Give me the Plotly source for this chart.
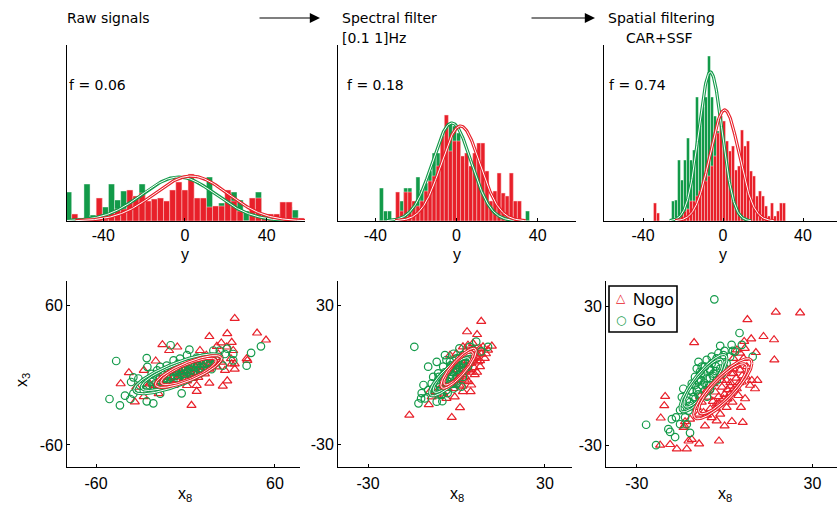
import numpy as np
import plotly.graph_objects as go

W, H = 837, 508
RED = '#E8202A'
GREEN = '#129A49'
TICKFONT = dict(family='Liberation Sans, Arial', size=16, color='black')
TEXTFONT = dict(family='DejaVu Sans', size=14, color='black')

# ---------------- histogram data (bin centres, heights) ----------------
h1_centers = [-57, -54, -51, -48, -45, -42, -39, -36, -33, -30, -27, -24, -21, -18, -15, -12, -9, -6, -3, 0,
              3, 6, 9, 12, 15, 18, 21, 24, 27, 30, 33, 36, 39, 42, 45, 48, 51, 54, 57]
h1_go = [29, 0, 3, 37, 6, 0, 14, 37, 21, 30, 20, 3, 37, 14, 13, 0, 0, 0, 0, 0,
         0, 0, 0, 44, 0, 18, 0, 29, 21, 10, 0, 29, 0, 0, 0, 0, 14, 11, 0]
h1_nogo = [0, 7, 3, 2, 2, 23, 2, 8, 12, 12, 31, 25, 28, 20, 22, 23, 20, 31, 39, 31,
           47, 23, 23, 14, 15, 15, 31, 20, 10, 0, 23, 23, 7, 7, 7, 19, 19, 3, 3]

h2_centers = [-37, -35, -33, -31, -29, -27, -25, -23, -21, -19, -17, -15, -13, -11, -9, -7, -5, -3, -1,
              1, 3, 5, 7, 9, 11, 13, 15, 17, 19, 21, 23, 25, 27, 29, 31, 33, 35]
h2_go = [33, 10, 10, 0, 0, 20, 33, 33, 20, 44, 31, 38, 50, 68, 68, 68, 80, 97, 95,
         88, 58, 50, 45, 40, 30, 25, 20, 10, 20, 15, 10, 0, 20, 5, 0, 0, 10]
h2_nogo = [0, 0, 0, 0, 29, 10, 29, 29, 20, 15, 20, 30, 40, 45, 55, 85, 106, 70, 80,
           80, 65, 68, 55, 68, 78, 78, 50, 20, 30, 48, 28, 25, 48, 20, 20, 0, 0]

h3_centers = [-34, -32.5, -31, -29.5, -28, -26.5, -25, -23.5, -22, -20.5, -19, -17.5, -16, -14.5, -13,
              -11.5, -10, -8.5, -7, -5.5, -4, -2.5, -1, 0.5, 2, 3.5, 5, 6.5, 8, 9.5, 11, 12.5, 14,
              15.5, 17, 18.5, 20, 21.5, 23, 24.5, 26, 27.5, 29, 30.5]
h3_go = [0, 0, 0, 0, 0, 0, 20, 21, 61, 41, 61, 83, 61, 71, 124, 95, 114, 124, 165, 124, 105, 90,
         70, 50, 40, 30, 25, 20, 15, 10, 8, 5, 0, 0, 0, 0, 0, 0, 0, 0, 0, 0, 0, 0]
h3_nogo = [18, 8, 0, 0, 0, 0, 0, 3, 5, 8, 10, 12, 20, 20, 25, 30, 35, 40, 45, 55, 65, 88,
           105, 100, 80, 70, 75, 51, 55, 91, 75, 80, 50, 45, 25, 30, 25, 15, 5, 18, 5, 10, 18, 18]

bin_widths = [3, 2, 1.5]

# Gaussian fits per panel: mean, sd, peak
gauss_go = [(-3, 18, 44), (-2.3, 9.5, 98), (-6.3, 5.8, 149)]
gauss_nogo = [(3, 18, 45), (2, 9.5, 95), (0.8, 7.2, 111)]

f_labels = ['f = 0.06', 'f = 0.18', 'f = 0.74']

# ---------------- scatter data (x8, x3) ----------------
s4_nogo = [(33, 48.5), (48, 36), (54, 30), (28, 35.5), (16, 33), (31, 28), (24, 27.5), (-15.5, 26), (-11, 21),
           (-5.5, 24), (-38, 2), (-43.5, -7.5), (-28, 4), (-34, -23), (4, -26), (7.5, -14), (16, -7), (25, -9.6),
           (28, -5), (33, 5), (33, 9.6), (41, 14), (41.5, 12.5), (30.5, 14), (9.7, 21), (21, 24.6), (27.6, 24),
           (32, 21), (26.5, 4), (31, 9.6), (-20, 12), (-26, -10.5), (-20, -9), (-8, -9), (1, -9), (7.5, -9),
           (-33, -10.5), (-28, -18.6), (-18, -16), (22, 18), (20, 15), (14, 17), (12, 8), (6.4, 7), (1, 4),
           (-4, 1), (-8, -2), (-12.6, -4.7), (-17, -6), (-24, -7.6), (9.7, 11), (16, 5), (4, -2), (0, 9.6),
           (-5, 7), (-10, 4), (-15, 1), (21, 7), (24, 11), (13, 1), (8.6, -2), (-2.6, -6), (3, 3), (6, 5),
           (10, 8), (-2, 0), (5, -3), (12, 12), (18, 10), (-6, -4), (0, -3), (8, 2), (15, 9), (-10, -5),
           (2, 6), (11, 4), (19, 13), (-3, 3), (-6, 2), (4, 1), (7, 7), (14, 6), (-1, 4), (10, 3), (17, 14),
           (-12, -2), (22, 15), (1, -5)]
s4_go = [(-46.5, 12), (-51, -20.6), (-44, -26), (-40.6, -17.7), (-37, -20.6), (-35, -16), (-36.5, -6), (-35, -2),
         (-26, 14.5), (-25.6, 7), (-26, -22.6), (-21.6, -24.3), (-17, -16), (-10, 25.5), (2.6, 21.7), (-2.6, -15.7),
         (18.7, 21), (28, 22.6), (32, 18), (32, 12.5), (41, 8), (44, 19), (50.6, 24.6), (25, 8), (-31.6, -3),
         (-30.5, -9), (-21.6, -4.7), (-19, 4), (-12.6, 8), (-8, 12.5), (-3.7, 14), (1, 17), (7.5, 15), (12, 15),
         (14, 9.6), (17.5, 5), (9.7, 4), (4, 7), (-1.5, 4), (-7, 2.4), (-12.6, 0), (-17, -2), (-22.7, -6),
         (-26, -9), (-28, -13), (-12.6, -9), (-8, -6), (0, -3), (5, 1), (12, 7), (21, 12.5), (23, 21),
         (26.5, 18), (-17, 7), (-22.7, 1), (-5, 9.6), (2, 11), (7.5, 9.6), (-8, 7), (-2.6, 0), (-15, -6),
         (-19, -10.5), (16, 14), (-4, 3), (0, 5), (3, 8), (6, 10), (9, 12), (-10, -2), (-14, -3), (-6, 0),
         (10, 6), (15, 11), (-18, -4), (-1, 1), (4, 4), (-9, 3), (8, 14), (-20, -7), (-12, -5), (-5, -3),
         (2, 3), (8, 8), (-15, -8), (-1, -2), (6, 3), (12, 10), (-7, 4), (18, 14), (-22, -9), (-3, 6)]

s5_nogo = [(8.4, 23), (3.6, 18.5), (7, 17.3), (12, 12.3), (10.7, 10.6), (-16, -17.5), (-9.4, -13), (-1.6, -18.5),
           (1.2, -14.3), (4.8, -7.4), (5, -4.5), (6.2, 0), (8, 3.4), (9.6, 7), (8.4, 8.8), (5.6, 13.5), (3.9, 12.7),
           (2.2, 12), (0, 9), (-2.2, 8.4), (-6.7, -8.8), (-4.5, -8), (-1, -6), (1, -4.5), (2.8, -2.4), (3.4, 2),
           (4.5, 4.8), (6.7, 7.7), (6.2, 10.6), (8, 11.3), (9, 12), (10, 9), (1.7, 7.7), (0.6, 3.4), (-1, 0.5),
           (-2.8, -2.4), (-4.5, -4.5), (-6.2, -6.7), (-8.4, -9.6), (-9, -7.4), (-3.4, -10.3), (-0.6, -9.6),
           (2.2, -7.4), (5.6, 6.3), (7.3, 5.5), (4.5, 10), (3, 1.2), (0, -2.4), (-1.7, -4.5), (1, 1), (2, 4),
           (4, 6), (5, 9), (7, 9), (3, -1), (-1, 2), (6, 3), (2, -5), (-3, -6), (2, 0), (4, 2), (5, 5), (3, 7),
           (1, -2), (6, 7), (8, 6), (4, -3), (7, 1), (0, 5), (3, 10), (5, 1)]
s5_go = [(-14.3, 12), (-9.6, 3.4), (-6.7, 5.5), (-3.9, 8.4), (-11.2, -4.5), (-11.8, -8), (-12.9, -12.4), (-12, -10.3),
         (-10.7, -10.3), (-6.7, -11.7), (-4.8, -11.5), (-5, -8.8), (-7.9, -6), (-7.9, -1), (-6.2, 0.5), (-4.5, 3.4),
         (-2.2, 5.5), (0, 7), (2.2, 8.4), (4.5, 12), (6.7, 14.2), (10.7, 12), (8.4, 10), (5.6, 10.6), (2.2, 4.8),
         (0, 2), (-2.2, -1), (-4.5, -3), (-5.6, -5.2), (-3.4, -6.7), (-1, -3.8), (1.7, -5.2), (2.2, -1), (3.9, 3.4),
         (0, 4.8), (-2.2, 2), (-3.9, 0), (-6.2, -2.4), (-8.4, -3.8), (-3.4, 6.3), (-1, 9), (1, 11.3), (3.4, 7.7),
         (-1.7, 3.4), (1, 0), (-5.6, -8.4), (-9.6, -6.7), (-2, -2), (-1, 1), (1, 3), (-4, -5), (0, -1), (2, 6),
         (-3, 1), (-6, -4), (-1.5, -4), (-3, -3), (-2, 0), (0, 2.5), (-4, -2), (-5, -6), (-1, -6), (1, 4),
         (2, 2), (-2, 4), (-4, 1), (-6, -1), (0, -4), (3, 5), (-3, -8), (1, 7)]

s6_nogo = [(17.5, 27.4), (25.8, 27.1), (7.8, 24.2), (16.9, 15.5), (17, 6.8), (13.3, 16.9), (9.1, 15.9), (10.7, 10),
           (6.7, 14.8), (-10.4, 14.3), (-20.3, -8.9), (-20.6, -12.9), (-21.8, -18.2), (-22, -29.9), (-18.6, -29.6),
           (-16.3, -31.5), (-12.9, -31.5), (-12.3, -28.1), (-11.2, -27.4), (-8.7, -29.3), (-1.9, -28.1),
           (-13.7, -21.6), (-13.5, -19.8), (-6.7, -21.6), (-2.7, -19.4), (0, -21.6), (2.5, -19.7), (6.2, -20.1),
           (5.6, -13.6), (2.7, -11.4), (11.2, -2), (10.4, -5.6), (8.7, -4.1), (7.3, -0.5), (5.3, 2.4), (4.2, 4.6),
           (3, 7.5), (5.3, 9.7), (6.5, 7.5), (7.6, 3.9), (5.9, -2.7), (4.2, -5.6), (1.9, -7.8), (-0.4, -10),
           (-2.7, -12.1), (-4.9, -14.3), (-7.2, -15.8), (-8.9, -16.5), (-9.5, -13.6), (-7.8, -11.4), (-5.5, -9.2),
           (-3.2, -7), (-0.9, -4.9), (0.7, -2), (2.4, 0.9), (0.7, 3.1), (-1.5, -0.5), (-3.8, -3.4), (-6.1, -6.3),
           (-8.4, -8.9), (0.7, -13.6), (-1.5, -16.5), (-4.4, -18), (-11.8, -18.7), (-14, -22.3), (4.7, -8.5),
           (7, -9.9), (9.3, -2), (4.2, 11.1), (6.9, 11.8), (2, -3), (4, -1), (-2, -9), (1, -6), (3, 3),
           (-4, -11), (6, 0), (0, -8), (2, -4.5), (-2, -12), (3, -6), (-3, -14), (1, -10), (5, -3), (-6, -17),
           (3, 1), (-1, -2)]
s6_go = [(-3.5, 32.9), (5.1, 18.4), (-26.8, -21.1), (-23.4, -29.9), (-19.2, -23), (-18.6, -24.2), (-16.9, -26.4),
         (-18, -18.7), (-16.6, -17.9), (-15.2, -14.8), (-14.6, -9.2), (-14.1, -5.6), (-8.9, 6), (-6.1, 6.8),
         (-1.5, 12.9), (0, 10.7), (2.8, 10.7), (9.6, 8.2), (-11.8, -24.6), (-12.9, -20.9), (-15.2, -20.9),
         (-13.5, -17.9), (-12.3, -15), (-11.8, -11.4), (-10.6, -9.2), (-11.8, -6.3), (-11.2, -3.4), (-10.1, -0.5),
         (-8.4, 1.7), (-6.7, 3.9), (-4.4, 5.3), (-2.7, 7.5), (-0.4, 8.9), (1.9, 8.2), (0.7, 5.3), (-1.5, 3.1),
         (-3.8, 0.9), (-6.1, -1.2), (-7.8, -4.1), (-9.5, -6.3), (-8.4, -8.5), (-6.7, -6.3), (-4.9, -4.1),
         (-2.7, -2), (-0.9, 0.9), (0.2, 3.1), (-4.9, 2.4), (-7.2, 0.9), (-8.9, -1.9), (-6.1, -4.1), (-7.8, 3.9),
         (-9.5, 3.1), (3.6, 10.4), (5.9, 13.3), (2.4, 13.3), (-12.9, -10.7), (-4.4, 8.2), (-2.1, 9.7),
         (-5, -1), (-3, 2), (-8, -2), (-10, -4), (-9, -8), (-7, -3), (-5, -6), (-10, -10), (-4, 0), (-8, 1),
         (-6, -9), (-12, -13), (-3, 4), (-9, -2.5), (-11, -7), (-5, 3)]

# covariance-ellipse parameters: centre x, centre y, sd x, sd y, correlation
ell_go = [(-5, 1, 24.7, 14.3, 0.8), (-1.7, -0.2, 6.2, 7.5, 0.85), (-7.2, -3.2, 6.7, 10.3, 0.85)]
ell_nogo = [(2, 3, 18.5, 11.4, 0.8), (0.7, 2.7, 5, 7.2, 0.85), (-0.6, -5.6, 8.3, 10.8, 0.85)]
ell_levels = [1.0, 1.2]

legend_labels = ['Nogo', 'Go']

# ---------------- layout geometry (pixels) ----------------
top_x_dom = [(67, 305), (338, 576), (604, 837)]
top_ranges = [(-57.8, 58.8), (-58.4, 58.9), (-59.5, 57)]
bot_x_dom = [(67, 300), (338, 572), (606, 837)]
bot_xranges = [(-79.5, 76.8), (-40.2, 39.2), (-40.5, 38.4)]
bot_yranges = [(-78.9, 80.6), (-39.9, 40.4), (-39.3, 40.8)]
bot_ticks = [[-60, 60], [-30, 30], [-30, 30]]


def px(v):
    return v / W


def py(v):
    return 1 - v / H


fig = go.Figure()
layout = dict(width=W, height=H, margin=dict(l=0, r=0, t=0, b=0),
              paper_bgcolor='white', plot_bgcolor='white', barmode='overlay', bargap=0,
              showlegend=False, hovermode=False)

xg = np.linspace(-60, 60, 400)
for i in range(3):
    n = i + 1
    xa = 'x' if n == 1 else f'x{n}'
    ya = 'y' if n == 1 else f'y{n}'
    centers = [h1_centers, h2_centers, h3_centers][i]
    gv = [h1_go, h2_go, h3_go][i]
    rv = [h1_nogo, h2_nogo, h3_nogo][i]
    fig.add_trace(go.Bar(x=centers, y=gv, width=bin_widths[i],
                         marker=dict(color=GREEN, line=dict(color='rgba(255,255,255,0.7)', width=0.6)),
                         xaxis=xa, yaxis=ya, name='Go'))
    fig.add_trace(go.Bar(x=centers, y=rv, width=bin_widths[i],
                         marker=dict(color=RED, line=dict(color='rgba(255,220,220,0.8)', width=0.6)),
                         xaxis=xa, yaxis=ya, name='Nogo'))
    for (mu, sd, pk), col in [(gauss_go[i], GREEN), (gauss_nogo[i], RED)]:
        yy = pk * np.exp(-0.5 * ((xg - mu) / sd) ** 2)
        mask = yy > 0.3
        fig.add_trace(go.Scatter(x=xg[mask], y=yy[mask], mode='lines', line=dict(color=col, width=3.2),
                                 xaxis=xa, yaxis=ya))
        fig.add_trace(go.Scatter(x=xg[mask], y=yy[mask], mode='lines', line=dict(color='white', width=1),
                                 xaxis=xa, yaxis=ya))
    x0, x1 = top_x_dom[i]
    layout[f'xaxis{"" if n == 1 else n}'] = dict(
        domain=[px(x0), px(x1)], range=list(top_ranges[i]), anchor=ya, showline=True, linecolor='black',
        linewidth=1, ticks='inside', ticklen=3, tickcolor='black', tickvals=[-40, 0, 40], ticktext=['-40', '0', '40'],
        tickfont=TICKFONT, showgrid=False, zeroline=False, ticklabelstandoff=0)
    layout[f'yaxis{"" if n == 1 else n}'] = dict(
        domain=[py(221), py(45)], range=[0, 176], anchor=xa, showline=True, linecolor='black', linewidth=1,
        showticklabels=False, ticks='', showgrid=False, zeroline=False)

scat = [(s4_nogo, s4_go), (s5_nogo, s5_go), (s6_nogo, s6_go)]
t = np.linspace(0, 2 * np.pi, 200)
for i in range(3):
    n = i + 4
    xa, ya = f'x{n}', f'y{n}'
    nogo, gop = scat[i]
    fig.add_trace(go.Scatter(x=[p[0] for p in nogo], y=[p[1] for p in nogo], mode='markers', name='Nogo',
                             marker=dict(symbol='triangle-up-open', size=8, color=RED, line=dict(width=1.2)),
                             xaxis=xa, yaxis=ya))
    fig.add_trace(go.Scatter(x=[p[0] for p in gop], y=[p[1] for p in gop], mode='markers', name='Go',
                             marker=dict(symbol='circle-open', size=7.5, color=GREEN, line=dict(width=1.2)),
                             xaxis=xa, yaxis=ya))
    for (cx, cy, sx, sy, rho), col in [(ell_go[i], GREEN), (ell_nogo[i], RED)]:
        for k in ell_levels:
            ex = cx + k * sx * np.cos(t)
            ey = cy + k * sy * (rho * np.cos(t) + np.sqrt(1 - rho ** 2) * np.sin(t))
            fig.add_trace(go.Scatter(x=ex, y=ey, mode='lines', line=dict(color=col, width=3),
                                     xaxis=xa, yaxis=ya))
            fig.add_trace(go.Scatter(x=ex, y=ey, mode='lines', line=dict(color='white', width=1),
                                     xaxis=xa, yaxis=ya))
    x0, x1 = bot_x_dom[i]
    layout[f'xaxis{n}'] = dict(
        domain=[px(x0), px(x1)], range=list(bot_xranges[i]), anchor=ya, showline=True, linecolor='black',
        linewidth=1, ticks='inside', ticklen=3, tickcolor='black', tickvals=bot_ticks[i],
        ticktext=[str(v) for v in bot_ticks[i]], tickfont=TICKFONT, showgrid=False, zeroline=False,
        ticklabelstandoff=2)
    layout[f'yaxis{n}'] = dict(
        domain=[py(467), py(281)], range=list(bot_yranges[i]), anchor=xa, showline=True, linecolor='black',
        linewidth=1, ticks='inside', ticklen=3, tickcolor='black', tickvals=bot_ticks[i],
        ticktext=[str(v) for v in bot_ticks[i]], tickfont=TICKFONT, showgrid=False, zeroline=False,
        ticklabelstandoff=0)

ann = []


def text(x, y, s, font=TEXTFONT, xanchor='left', **kw):
    ann.append(dict(x=px(x), y=py(y), xref='paper', yref='paper', text=s, showarrow=False,
                    xanchor=xanchor, yanchor='middle', font=font, **kw))


text(65, 18, 'Raw signals')
text(340, 18, 'Spectral filter')
text(340, 38, '[0.1 1]Hz')
text(606, 18, 'Spatial filtering')
text(624, 38, 'CAR+SSF')
for xpos, lab in zip([67, 345, 607], f_labels):
    text(xpos, 85, lab)
for cx in [185, 457, 723]:
    text(cx, 254, 'y', font=TICKFONT, xanchor='center')
for cx in [185, 457, 725]:
    text(cx, 494, 'x<sub>8</sub>', font=TICKFONT, xanchor='center')
text(22, 380, 'x<sub>3</sub>', font=TICKFONT, xanchor='center', textangle=-90)

for (xs, xe) in [(258, 320), (530, 595)]:
    ann.append(dict(x=px(xe), y=py(18), xref='paper', yref='paper', ax=xs - xe, ay=0, text='',
                    showarrow=True, arrowhead=2, arrowsize=1.7, arrowwidth=1.2, arrowcolor='black'))

# hand-drawn legend box (bottom-right panel)
LEGFONT = dict(family='Liberation Sans, Arial', size=17, color='black')
text(614, 298, '\u25b3', font=dict(family='DejaVu Sans', size=12, color=RED))
text(631, 299, legend_labels[0], font=LEGFONT)
text(614, 320, '\u25cb', font=dict(family='DejaVu Sans', size=12, color=GREEN))
text(631, 320, legend_labels[1], font=LEGFONT)
layout['shapes'] = [dict(type='rect', xref='paper', yref='paper', x0=px(609), x1=px(677), y0=py(332), y1=py(286),
                         line=dict(color='black', width=1.6), fillcolor='rgba(0,0,0,0)', layer='above')]

layout['annotations'] = ann
fig.update_layout(**layout)
fig.write_html('out.html', config={'displayModeBar': False, 'staticPlot': True},
               post_script="document.body.style.margin='0';document.body.style.overflow='hidden';")
